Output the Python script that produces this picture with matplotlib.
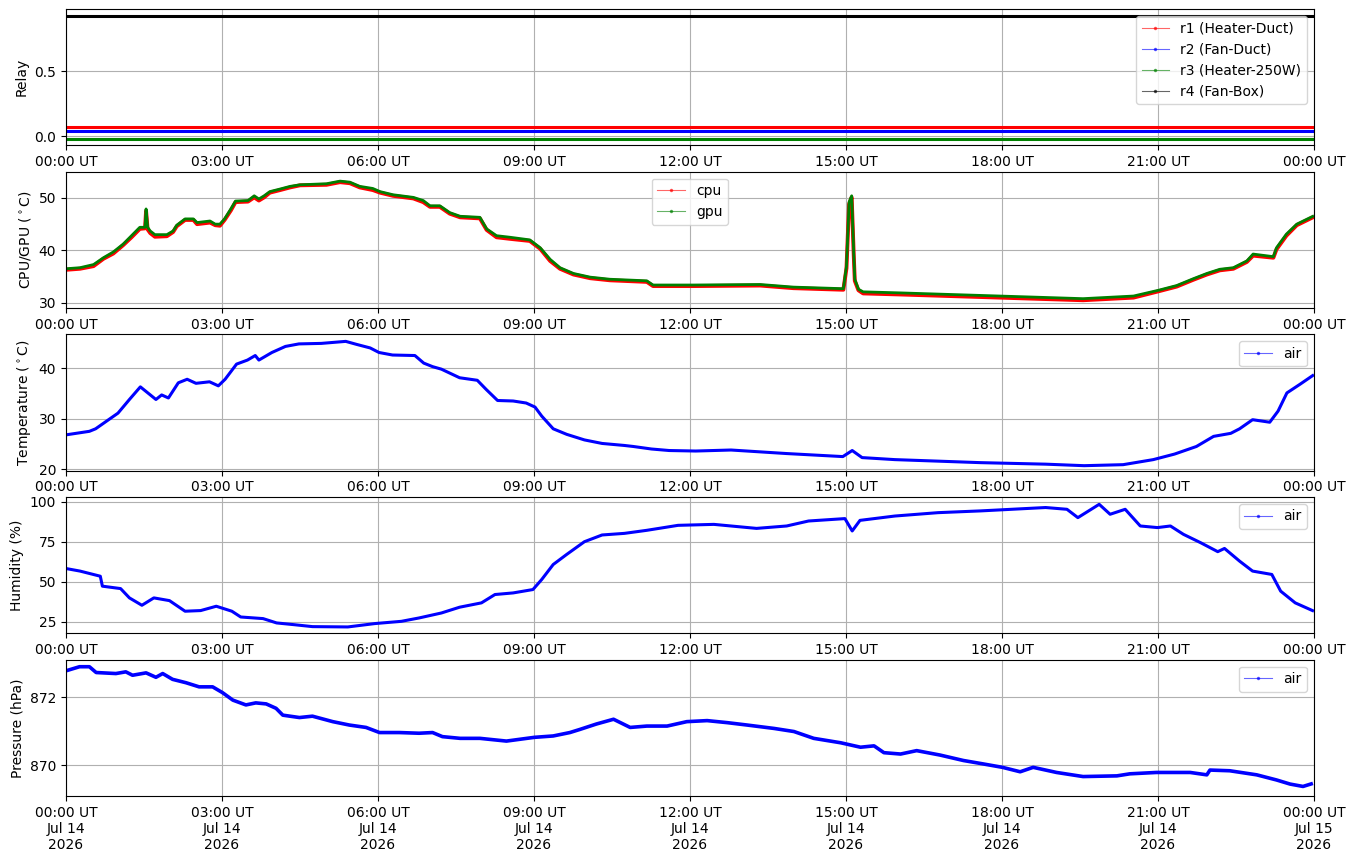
import datetime as dt
import matplotlib
matplotlib.use('Agg')
import matplotlib.pyplot as plt
import matplotlib.dates as mdates

# day of data
day0 = dt.datetime(2026, 7, 14)

# relay states (hours, value)
relay_hours = [0, 24]
r1_vals = [0.07, 0.07]
r2_vals = [0.04, 0.04]
r3_vals = [-0.02, -0.02]
r4_vals = [0.925, 0.925]

# cpu / gpu temperature
gpu_hours = [0, 0.27, 0.53, 0.72, 0.91, 1.10, 1.26, 1.42, 1.52, 1.54,
             1.57, 1.62, 1.71, 1.94, 2.06, 2.13, 2.29, 2.45, 2.52, 2.77,
             2.87, 2.96, 3.05, 3.17, 3.26, 3.50, 3.62, 3.71, 3.81, 3.92,
             4.12, 4.31, 4.50, 5.01, 5.27, 5.46, 5.65, 5.90, 6.04, 6.29,
             6.68, 6.87, 7.00, 7.19, 7.38, 7.58, 7.96, 8.09, 8.28, 8.54,
             8.92, 9.12, 9.31, 9.50, 9.76, 10.08, 10.46, 11.17, 11.29, 12.06,
             13.35, 13.99, 14.95, 15.01, 15.06, 15.11, 15.15, 15.17, 15.24, 15.33,
             16.04, 17.96, 19.56, 20.53, 21.01, 21.36, 21.68, 21.94, 22.19, 22.45,
             22.71, 22.83, 23.22, 23.28, 23.47, 23.67, 24.0]
gpu_vals = [36.5, 36.7, 37.3, 38.6, 39.7, 41.2, 42.8, 44.4, 44.4, 47.9,
            44.4, 43.7, 43.0, 43.0, 43.7, 44.8, 46.0, 46.0, 45.3, 45.6,
            45.0, 45.0, 46.0, 47.9, 49.4, 49.5, 50.4, 49.8, 50.4, 51.2,
            51.7, 52.2, 52.5, 52.7, 53.2, 53.0, 52.2, 51.8, 51.2, 50.6,
            50.1, 49.5, 48.5, 48.5, 47.2, 46.5, 46.3, 44.1, 42.8, 42.5,
            42.0, 40.5, 38.3, 36.7, 35.6, 34.9, 34.5, 34.2, 33.4, 33.4,
            33.5, 33.0, 32.7, 37.0, 49.2, 50.4, 39.3, 34.5, 32.6, 32.1,
            31.9, 31.3, 30.8, 31.3, 32.4, 33.3, 34.6, 35.6, 36.4, 36.7,
            38.0, 39.3, 38.8, 40.5, 43.1, 45.0, 46.6]
cpu_vals = [36.3, 36.5, 37.0, 38.4, 39.4, 41.0, 42.5, 44.1, 44.2, 47.5,
            44.0, 43.3, 42.6, 42.7, 43.5, 44.6, 45.8, 45.8, 45.0, 45.3,
            44.8, 44.7, 45.8, 47.6, 49.2, 49.3, 50.1, 49.5, 50.1, 51.0,
            51.5, 52.0, 52.4, 52.5, 53.0, 52.8, 52.0, 51.5, 51.0, 50.4,
            49.9, 49.2, 48.3, 48.3, 47.0, 46.3, 46.1, 43.9, 42.5, 42.2,
            41.8, 40.3, 38.0, 36.5, 35.4, 34.7, 34.3, 34.0, 33.2, 33.2,
            33.3, 32.8, 32.5, 36.6, 48.8, 50.1, 39.0, 34.2, 32.4, 31.8,
            31.6, 31.0, 30.5, 31.0, 32.2, 33.1, 34.4, 35.4, 36.2, 36.5,
            37.8, 39.0, 38.6, 40.2, 42.8, 44.8, 46.4]

# air temperature
temp_hours = [0, 0.45, 0.57, 0.75, 1.0, 1.22, 1.43, 1.73, 1.84, 1.97,
              2.16, 2.33, 2.5, 2.76, 2.93, 3.06, 3.28, 3.49, 3.64, 3.71,
              3.96, 4.22, 4.48, 4.91, 5.38, 5.59, 5.85, 6.02, 6.28, 6.71,
              6.88, 7.05, 7.22, 7.57, 7.91, 8.08, 8.3, 8.6, 8.85, 9.02,
              9.15, 9.37, 9.63, 9.97, 10.31, 10.74, 10.91, 11.26, 11.6, 12.11,
              12.79, 13.86, 14.94, 15.12, 15.31, 15.94, 17.59, 18.84, 19.58, 20.33,
              20.91, 21.32, 21.74, 22.07, 22.4, 22.57, 22.82, 23.15, 23.31, 23.48,
              23.73, 24.0]
temp_vals = [26.8, 27.5, 28.0, 29.3, 31.1, 33.8, 36.3, 33.8, 34.7, 34.1,
             37.1, 37.8, 37.0, 37.3, 36.5, 37.8, 40.8, 41.6, 42.5, 41.6,
             43.1, 44.3, 44.8, 44.9, 45.3, 44.7, 44.0, 43.1, 42.6, 42.5,
             41.0, 40.3, 39.8, 38.1, 37.6, 35.8, 33.6, 33.5, 33.1, 32.3,
             30.5, 28.0, 26.9, 25.8, 25.1, 24.7, 24.5, 24.0, 23.7, 23.6,
             23.8, 23.1, 22.5, 23.7, 22.3, 21.9, 21.3, 21.0, 20.7, 20.9,
             21.9, 23.0, 24.5, 26.5, 27.1, 28.0, 29.8, 29.3, 31.5, 35.1,
             36.8, 38.7]

# humidity
hum_hours = [0, 0.27, 0.66, 0.70, 1.05, 1.22, 1.46, 1.69, 1.99, 2.29,
             2.59, 2.89, 3.19, 3.36, 3.79, 4.05, 4.39, 4.74, 5.42, 5.94,
             6.45, 6.79, 7.22, 7.57, 7.99, 8.25, 8.6, 8.98, 9.15, 9.37,
             9.63, 9.97, 10.31, 10.74, 11.17, 11.77, 12.46, 13.28, 13.86, 14.28,
             14.98, 15.12, 15.27, 15.94, 16.77, 17.59, 18.84, 19.25, 19.46, 19.87,
             20.08, 20.37, 20.66, 20.99, 21.24, 21.49, 21.82, 22.15, 22.28, 22.57,
             22.82, 23.19, 23.36, 23.64, 24.0]
hum_vals = [58.3, 56.7, 53.5, 47.3, 45.8, 40.0, 35.4, 40.0, 38.3, 31.7,
            32.1, 34.8, 31.7, 28.1, 27.1, 24.4, 23.3, 22.1, 21.9, 24.0,
            25.4, 27.5, 30.6, 34.2, 36.9, 42.1, 43.1, 45.2, 51.5, 60.8,
            67.1, 75.0, 79.2, 80.2, 82.1, 85.2, 85.8, 83.3, 84.8, 87.9,
            89.4, 81.7, 88.3, 91.0, 93.1, 94.2, 96.3, 95.2, 90.0, 98.3,
            92.1, 95.2, 84.8, 83.8, 84.8, 79.6, 74.4, 68.8, 70.8, 62.9,
            56.7, 54.6, 44.2, 36.9, 31.7]

# pressure
pres_hours = [0, 0.26, 0.45, 0.58, 0.96, 1.15, 1.28, 1.54, 1.73, 1.86,
              2.05, 2.31, 2.56, 2.82, 3.01, 3.21, 3.46, 3.65, 3.85, 4.04,
              4.17, 4.49, 4.74, 5.13, 5.45, 5.77, 6.03, 6.41, 6.79, 7.05,
              7.24, 7.58, 7.96, 8.47, 9.01, 9.37, 9.69, 9.88, 10.2, 10.53,
              10.85, 11.17, 11.56, 11.94, 12.33, 12.72, 13.1, 13.62, 14.0, 14.38,
              14.9, 15.28, 15.54, 15.73, 16.05, 16.36, 16.81, 17.26, 17.64, 18.01,
              18.35, 18.6, 19.05, 19.56, 20.21, 20.46, 20.97, 21.62, 21.94, 22.0,
              22.38, 22.9, 23.28, 23.54, 23.79, 23.98]
pres_vals = [872.77, 872.89, 872.89, 872.72, 872.69, 872.74, 872.64, 872.71, 872.58, 872.69,
             872.52, 872.42, 872.30, 872.30, 872.13, 871.91, 871.77, 871.83, 871.80, 871.67,
             871.47, 871.40, 871.44, 871.28, 871.18, 871.11, 870.96, 870.96, 870.94, 870.96,
             870.84, 870.79, 870.79, 870.71, 870.82, 870.86, 870.96, 871.05, 871.21, 871.35,
             871.11, 871.15, 871.15, 871.28, 871.31, 871.25, 871.18, 871.08, 870.99, 870.79,
             870.66, 870.53, 870.57, 870.37, 870.33, 870.43, 870.30, 870.14, 870.04, 869.94,
             869.81, 869.94, 869.79, 869.67, 869.69, 869.75, 869.79, 869.79, 869.72, 869.86,
             869.84, 869.72, 869.57, 869.45, 869.38, 869.47]


def to_time(hours):
    return [day0 + dt.timedelta(hours=h) for h in hours]


def series(ax, hours, vals, color, label, lw=2.2):
    # dense-looking trace plus a thin legend entry like the logger style
    ax.plot(to_time(hours), vals, color=color, lw=lw, solid_capstyle='butt')
    ax.plot([], [], color=color, lw=0.8, alpha=0.6, marker='.', ms=3,
            markerfacecolor=color, markeredgecolor=color, label=label)


fig, axes = plt.subplots(5, 1, figsize=(13.55, 8.61), dpi=100)
fig.subplots_adjust(left=0.0487, right=0.9697, top=0.9895, bottom=0.0755, hspace=0.192)
ax1, ax2, ax3, ax4, ax5 = axes

series(ax1, relay_hours, r1_vals, 'red', 'r1 (Heater-Duct)')
series(ax1, relay_hours, r2_vals, 'blue', 'r2 (Fan-Duct)')
series(ax1, relay_hours, r3_vals, 'green', 'r3 (Heater-250W)')
series(ax1, relay_hours, r4_vals, 'black', 'r4 (Fan-Box)')
ax1.set_ylabel('Relay')
ax1.set_ylim(-0.069, 0.977)
ax1.set_yticks([0.0, 0.5])
ax1.legend(loc='upper right')

series(ax2, gpu_hours, cpu_vals, 'red', 'cpu', lw=2.8)
series(ax2, gpu_hours, gpu_vals, 'green', 'gpu', lw=2.0)
ax2.set_ylabel(r'CPU/GPU ($^\circ$C)')
ax2.set_ylim(29.0, 55.0)
ax2.set_yticks([30, 40, 50])
ax2.legend(loc='upper center')

series(ax3, temp_hours, temp_vals, 'blue', 'air')
ax3.set_ylabel(r'Temperature ($^\circ$C)')
ax3.set_ylim(19.7, 46.7)
ax3.set_yticks([20, 30, 40])
ax3.legend(loc='upper right')

series(ax4, hum_hours, hum_vals, 'blue', 'air')
ax4.set_ylabel('Humidity (%)')
ax4.set_ylim(17.9, 102.9)
ax4.set_yticks([25, 50, 75, 100])
ax4.legend(loc='upper right')

series(ax5, pres_hours, pres_vals, 'blue', 'air', lw=2.6)
ax5.set_ylabel('Pressure (hPa)')
ax5.set_ylim(869.1, 873.1)
ax5.set_yticks([870, 872])
ax5.legend(loc='upper right')

for ax in axes:
    ax.set_xlim(day0, day0 + dt.timedelta(hours=24))
    ax.xaxis.set_major_locator(mdates.HourLocator(byhour=range(0, 24, 3)))
    ax.xaxis.set_major_formatter(mdates.DateFormatter('%H:%M UT'))
    ax.grid(True)
ax5.xaxis.set_major_formatter(mdates.DateFormatter('%H:%M UT\n%b %d\n%Y'))

plt.savefig('out.png', dpi=100)
